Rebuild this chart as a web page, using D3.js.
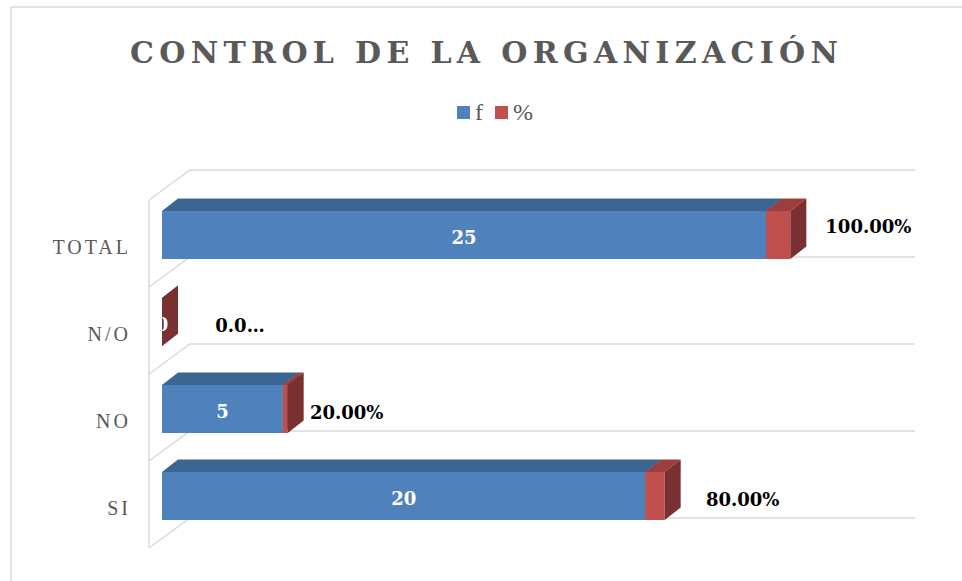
<!DOCTYPE html>
<html>
<head>
<meta charset="utf-8">
<script src="https://cdn.jsdelivr.net/npm/d3@7/dist/d3.min.js"></script>
<style>
  html, body { margin: 0; padding: 0; background: #fff; }
  svg { display: block; }
</style>
</head>
<body>
<svg id="chart" width="962" height="581"></svg>
<script>
// datos del grafico
var categories = ["TOTAL", "N/O", "NO", "SI"];
var fValues = [25, 0, 5, 20];
var pctValues = [1.00, 0, 0.20, 0.80];
var pctLabels = ["100.00%", "0.0…", "20.00%", "80.00%"];
var legendLabels = ["f", "%"];
var xDomain = [0, 30];

var title = "CONTROL DE LA ORGANIZACIÓN";

var colors = {
    f:   {front: "#4F81BD", top: "#3D6592", side: "#345782"},
    pct: {front: "#C0504D", top: "#9C3E3B", side: "#7A3030"}
};

//profundidad 3D
var wall = {dx: 41, dy: -30};
var barOff = {dx: 13, dy: -8.5};
var barDepth = {dx: 16, dy: -12.5};

//ajustes de etiquetas como en el original
var labelNudge = {"TOTAL": {dx: 0, dy: -12}, "NO": {dx: -19, dy: 0}};

var svg = d3.select("#chart");

//borde del area del grafico
svg.append("rect")
    .attr("x", 11).attr("y", 7)
    .attr("width", 980).attr("height", 620)
    .attr("fill", "none")
    .attr("stroke", "#d9d9d9")
    .attr("stroke-width", 1.5);

//titulo
svg.append("text")
    .attr("x", 484).attr("y", 63)
    .attr("text-anchor", "middle")
    .attr("textLength", 708)
    .attr("lengthAdjust", "spacing")
    .style("font-family", "'DejaVu Serif', serif")
    .style("font-weight", "bold")
    .style("font-size", "30px")
    .style("fill", "#595959")
    .text(title);

//leyenda
var legend = svg.append("g").attr("transform", "translate(457,106)");
var legendItem = legend.selectAll("g")
    .data(legendLabels)
    .enter().append("g")
    .attr("transform", function (d, i) { return "translate(" + (i * 38) + ",0)"; });
legendItem.append("rect")
    .attr("width", 13).attr("height", 13)
    .attr("fill", function (d, i) { return i === 0 ? colors.f.front : colors.pct.front; });
legendItem.append("text")
    .attr("x", 18).attr("y", 14)
    .style("font-family", "'Liberation Serif', serif")
    .style("font-size", "24px")
    .style("fill", "#595959")
    .text(function (d) { return d; });

//escalas
var x = d3.scaleLinear().domain(xDomain).range([149, 874]);
var y = d3.scaleBand().domain(categories).range([200, 548])
    .paddingInner(0.448).paddingOuter(0.224);

//lineas de la cuadricula (pared izquierda y pared trasera)
var grid = svg.append("g")
    .attr("fill", "none")
    .attr("stroke", "#d9d9d9")
    .attr("stroke-width", 1.5);
var y0 = y.range()[0];
var boundaries = d3.range(categories.length + 1).map(function (i) { return y0 + i * y.step(); });
grid.selectAll("path")
    .data(boundaries)
    .enter().append("path")
    .attr("d", function (fy) {
        return "M" + x(0) + "," + fy +
            "L" + (x(0) + wall.dx) + "," + (fy + wall.dy) +
            "L" + (x(xDomain[1]) + wall.dx) + "," + (fy + wall.dy);
    });
grid.append("line")
    .attr("x1", x(0)).attr("x2", x(0))
    .attr("y1", boundaries[0]).attr("y2", boundaries[boundaries.length - 1]);

//etiquetas de categorias
svg.append("g").selectAll("text")
    .data(categories)
    .enter().append("text")
    .attr("x", 131)
    .attr("y", function (d) { return y(d) - y.paddingOuter() * y.step() + y.step() / 2 + 3; })
    .attr("text-anchor", "end")
    .attr("dominant-baseline", "central")
    .style("font-family", "'Liberation Serif', serif")
    .style("font-size", "20px")
    .style("letter-spacing", "3px")
    .style("fill", "#595959")
    .text(function (d) { return d; });

//segmentos apilados
var segments = [];
categories.forEach(function (c, i) {
    segments.push({cat: c, s: 0, e: fValues[i], col: colors.f});
    segments.push({cat: c, s: fValues[i], e: fValues[i] + pctValues[i], col: colors.pct});
});

var bars = svg.append("g");
segments.forEach(function (seg) {
    var x0 = x(seg.s) + barOff.dx;
    var x1 = x(seg.e) + barOff.dx;
    var yt = y(seg.cat) + barOff.dy;
    var yb = yt + y.bandwidth();
    var g = bars.append("g");
    g.append("rect")
        .attr("x", x0).attr("y", yt)
        .attr("width", x1 - x0).attr("height", yb - yt)
        .attr("fill", seg.col.front);
    g.append("polygon")
        .attr("points", [[x0, yt], [x1, yt], [x1 + barDepth.dx, yt + barDepth.dy], [x0 + barDepth.dx, yt + barDepth.dy]].join(" "))
        .attr("fill", seg.col.top);
    g.append("polygon")
        .attr("points", [[x1, yt], [x1 + barDepth.dx, yt + barDepth.dy], [x1 + barDepth.dx, yb + barDepth.dy], [x1, yb]].join(" "))
        .attr("fill", seg.col.side);
});

//etiquetas de f (dentro de la barra)
svg.append("g").selectAll("text")
    .data(categories)
    .enter().append("text")
    .attr("x", function (d, i) { return (x(0) + x(fValues[i])) / 2 + barOff.dx; })
    .attr("y", function (d) { return y(d) + barOff.dy + y.bandwidth() / 2 + 2; })
    .attr("text-anchor", "middle")
    .attr("dominant-baseline", "central")
    .style("font-family", "'DejaVu Serif', serif")
    .style("font-weight", "bold")
    .style("font-size", "18px")
    .style("fill", "#ffffff")
    .text(function (d, i) { return fValues[i]; });

//etiquetas de % (fuera de la barra)
svg.append("g").selectAll("text")
    .data(categories)
    .enter().append("text")
    .attr("x", function (d, i) {
        var n = labelNudge[d] || {dx: 0};
        return x(fValues[i] + pctValues[i]) + barOff.dx + 78 + n.dx;
    })
    .attr("y", function (d) {
        var n = labelNudge[d] || {dy: 0};
        return y(d) + barOff.dy + y.bandwidth() / 2 + 3 + n.dy;
    })
    .attr("text-anchor", "middle")
    .attr("dominant-baseline", "central")
    .style("font-family", "'DejaVu Serif', serif")
    .style("font-weight", "bold")
    .style("font-size", "18px")
    .style("fill", "#000000")
    .text(function (d, i) { return pctLabels[i]; });
</script>
</body>
</html>
